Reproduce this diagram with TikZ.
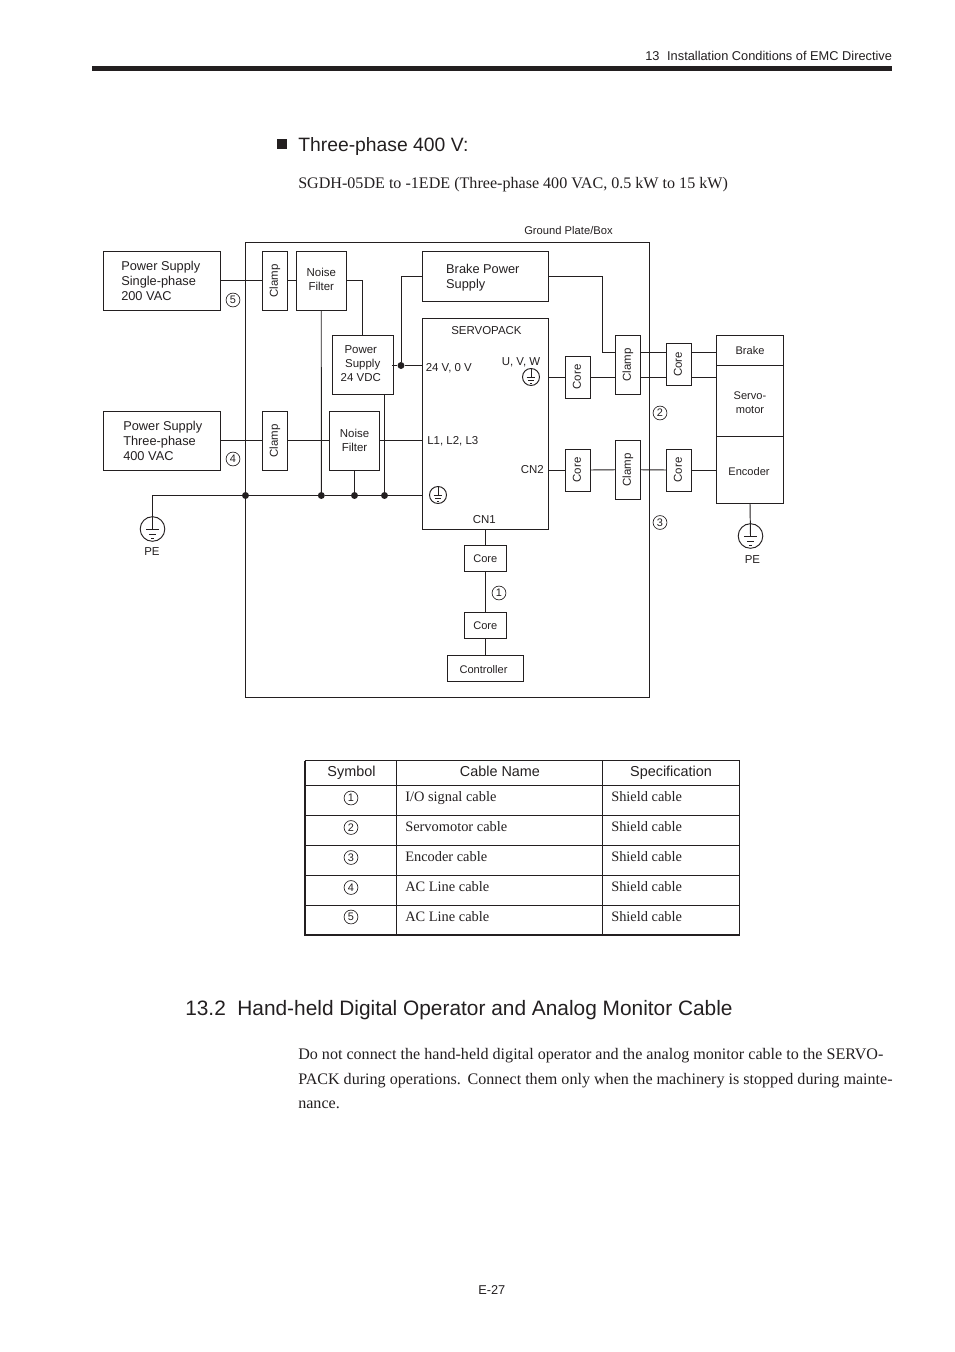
\documentclass[tikz,border=0pt]{standalone}
\usepackage{graphicx}
\usepackage{fontspec}
\setmainfont{Liberation Sans}
\newfontfamily\serifbody{Liberation Serif}
\usetikzlibrary{calc}
\definecolor{ink}{HTML}{231F20}
\newcommand{\fsz}[2][]{\fontsize{#2}{\ifx\relax#1\relax #2\else #1\fi}\selectfont}
\newcommand{\tall}[1]{\rule{0pt}{#1}}
\newcommand{\deep}[1]{\rule[-#1]{0pt}{0pt}}
% box by pixel corners
\newcommand{\bx}[7][]{%
  \pgfmathsetlengthmacro{\bw}{((#4)-(#2))*0.75pt}%
  \pgfmathsetlengthmacro{\bh}{((#5)-(#3))*0.75pt}%
  \node[boxnode,minimum width=\bw,minimum height=\bh,#1] (#6) at ({((#2)+(#4))/2},{((#3)+(#5))/2}) {#7};}
\newcommand{\gnd}[4]{% name x y r
  \pgfmathsetlengthmacro{\bw}{2*(#4)*0.75pt}%
  \node[gndnode,minimum size=\bw] (#1) at (#2,#3) {};
  \draw[wire] ({#2-0.52*(#4)},#3) -- ({#2+0.52*(#4)},#3)
    ({#2-0.3*(#4)},{#3+0.42*(#4)}) -- ({#2+0.3*(#4)},{#3+0.42*(#4)})
    ({#2-0.13*(#4)},{#3+0.76*(#4)}) -- ({#2+0.13*(#4)},{#3+0.76*(#4)});}
\tikzset{
  wire/.style={draw=ink,line width=0.72pt},
  boxnode/.style={draw=ink,line width=0.72pt,inner sep=0pt,align=center,text=ink,font=\fsz[10.5]{8.6}},
  bigtext/.style={align=left,font=\fsz[11.25]{9.6}},
  smalltext/.style={font=\fsz[10.5]{8.3}},
  gndnode/.style={draw=ink,line width=0.72pt,circle,inner sep=0pt},
  junction/.style={circle,fill=ink,inner sep=0pt,minimum size=5.2pt},
  lbl/.style={anchor=base west,inner sep=0pt,text=ink,font=\fsz{8.6}},
  cnum/.style={circle,draw=ink,line width=0.5pt,inner sep=0pt,minimum size=10.4pt,text=ink,font=\fsz{8.2}},
  hdr/.style={anchor=base,inner sep=0pt,text=ink,font=\fsz{10.8}},
  cell/.style={anchor=base west,inner sep=0pt,text=ink,font=\serifbody\fsz{10.8}},
  body/.style={anchor=base west,inner sep=0pt,text=ink,font=\serifbody\fsz{12.07}},
  tabrule/.style={draw=ink,line width=0.72pt},
  tabheavy/.style={draw=ink,line width=1.2pt}
}
\newcommand{\rot}[1]{\rotatebox{90}{#1}}
\begin{document}
\begin{tikzpicture}[x=0.75pt,y=-0.75pt]
\useasboundingbox (0,0) rectangle (954,1352);
% page header
\node[lbl,font=\fsz{9.6}] (runhead) at (645,60.5) {13\hspace{0.6em}Installation Conditions of EMC Directive};
\fill[ink] (92,66) rectangle (892,71);
% headings
\fill[ink] (277,139) rectangle (287,149);
\node[lbl,font=\fsz{14.5}] (title) at (298,151.3) {Three-phase 400 V:};
\node[body] (subtitle) at (298,189) {SGDH-05DE to -1EDE (Three-phase 400 VAC, 0.5 kW to 15 kW)};
\node[lbl,font=\fsz{8.4}] (gplabel) at (524,234) {Ground Plate/Box};
% ground plate
\bx{245.5}{242.5}{649}{697}{plate}{}
% boxes
\bx[bigtext]{103}{251.5}{220.5}{310}{ps1}{Power Supply\hspace*{1.5pt}\\Single-phase\\200 VAC}
\bx[bigtext]{103}{411.5}{220.5}{470}{ps3}{\hspace*{1.5pt}Power Supply\\\hspace*{1.5pt}Three-phase\\\hspace*{1.5pt}400 VAC}
\bx{262.5}{251.5}{287.5}{310}{clampA}{\rot{Clamp}}
\bx{262.5}{411.5}{287.5}{470}{clampB}{\rot{Clamp}}
\bx{296}{251.5}{346.5}{310}{nfA}{Noise\\Filter\deep{1.5pt}}
\bx{329.5}{411.5}{379.5}{470}{nfB}{Noise\\Filter}
\bx{332}{335.5}{393.5}{394}{psdc}{Power\hspace*{3pt}\\Supply\hspace*{3pt}\\24 VDC\hspace*{3pt}\deep{1.5pt}}
\bx[bigtext]{422.5}{251.5}{548.5}{301.5}{bps}{\tall{8.5pt}Brake Power\hspace*{4pt}\\Supply}
\bx{422.5}{318.5}{548.5}{529.5}{spk}{}
\bx{565.5}{356}{590.5}{398}{coreU}{\rot{\vphantom{p}Core}}
\bx{615.5}{335.5}{640.5}{394}{clampU}{\rot{Clamp}}
\bx{666.5}{343.5}{691.5}{385.5}{coreV}{\rot{\vphantom{p}Core}}
\bx{565.5}{449}{590.5}{491}{coreE}{\rot{\vphantom{p}Core}}
\bx{615.5}{440.5}{640.5}{499}{clampE}{\rot{Clamp}}
\bx{666.5}{449}{691.5}{491}{coreF}{\rot{\vphantom{p}Core}}
\bx[smalltext]{716.5}{335.5}{783.5}{365.5}{brake}{Brake}
\bx[smalltext]{716.5}{365.5}{783.5}{436.5}{servo}{\tall{9pt}Servo-\\motor}
\bx[smalltext]{716.5}{436.5}{783.5}{503.5}{enc}{\tall{9pt}Encoder\hspace*{1.5pt}}
\bx[smalltext]{464.5}{545.5}{506}{571.5}{coreS}{Core}
\bx[smalltext]{464.5}{612.5}{506}{638.5}{coreT}{Core}
\bx[smalltext]{447.5}{655}{523.5}{681}{ctrl}{\tall{9pt}Controller\hspace*{3pt}}
% servopack inner labels
\node[lbl] (spkname) at (451,334) {SERVOPACK};
\node[lbl] (t24) at (425.5,371) {24 V, 0 V};
\node[lbl] (tuvw) at (501.5,365) {U, V, W};
\node[lbl] (tl) at (427,444) {L1, L2, L3};
\node[lbl] (tcn2) at (520.5,473) {CN2};
\node[lbl] (tcn1) at (472.5,523) {CN1};
% grounds
\gnd{peL}{152.5}{529}{12.3}
\gnd{peR}{750.5}{536}{12.3}
\gnd{gU}{531}{377}{8.5}
\gnd{gB}{438}{495}{8.5}
\draw[wire] (gU.north) -- (gU.center);
\draw[wire] (gB.north) -- (gB.center);
\node[lbl] (peLt) at (144,555) {PE};
\node[lbl] (peRt) at (744.5,563) {PE};
% junctions
\node[junction] (j1) at (245.5,495.5) {};
\node[junction] (j2) at (321.3,495.5) {};
\node[junction] (j3) at (354.5,495.5) {};
\node[junction] (j4) at (384.5,495.5) {};
\node[junction] (j5) at (401,365.5) {};
\coordinate (busend) at (422.5,495.5);
\coordinate (turnB) at (602.5,352.5);
% connectors left
\draw[wire] (ps1.east) -- (clampA.west);
\draw[wire] (clampA.east) -- (nfA.west);
\draw[wire] (ps3.east) -- (clampB.west);
\draw[wire] (clampB.east) -- (nfB.west);
\draw[wire] (nfB.east) -- (spk.west |- nfB);
\draw[wire] (nfA.east) -| (psdc.north);
\draw[wire] (nfA.south) -- (j2);
\draw[wire] (nfB.south) -- (j3);
\draw[wire] (psdc.south -| j4) -- (j4);
\draw[wire] (peL.center) |- (j1);
\draw[wire] (j1) -- (j2) -- (j3) -- (j4) -- (busend);
\draw[wire] (psdc.east |- j5) ++(-2,0) -- (j5);
\draw[wire] (j5) -- (spk.west |- j5);
\draw[wire] (j5) |- (bps.west);
% connectors right
\draw[wire] (bps.east) -| (turnB) -- (clampU.west |- turnB);
\draw[wire] (clampU.east |- turnB) -- (coreV.west |- turnB);
\draw[wire] (coreV.east |- turnB) -- (brake.west |- turnB);
\draw[wire] (spk.east |- coreU) -- (coreU.west);
\draw[wire] (coreU.east) -- (clampU.west |- coreU);
\draw[wire] (clampU.east |- coreU) -- (coreV.west |- coreU);
\draw[wire] (coreV.east |- coreU) -- (servo.west |- coreU);
\draw[wire] (spk.east |- coreE) -- (coreE.west);
\draw[wire] (coreE.east) -- (clampE.west);
\draw[wire] (clampE.east) -- (coreF.west);
\draw[wire] (coreF.east) -- (enc.west |- coreF);
\draw[wire] (enc.south) -- (peR.center);
\draw[wire] (spk.south -| coreS) -- (coreS.north);
\draw[wire] (coreS.south) -- (coreT.north);
\draw[wire] (coreT.south) -- (ctrl.north -| coreT);
% cable numbers
\node[cnum] (n5) at (233,300) {5};
\node[cnum] (n4) at (233,459) {4};
\node[cnum] (n2) at (660,413) {2};
\node[cnum] (n3) at (660,522.5) {3};
\node[cnum] (n1) at (499,593) {1};
% table
\draw[tabrule] (305,760.5) -- (739.5,760.5);
\foreach \yy in {785.5,815.5,845.5,875.5,905.5} \draw[tabrule] (305,\yy) -- (739.5,\yy);
\draw[tabrule] (396.5,760.5) -- (396.5,935);
\draw[tabrule] (602.5,760.5) -- (602.5,935);
\draw[tabheavy] (305,760.5) -- (305,935) -- (739.5,935) -- (739.5,760.5);
\node[hdr] (hA) at (351.5,776) {Symbol};
\node[hdr] (hB) at (500,776) {Cable Name};
\node[hdr] (hC) at (671,776) {Specification};
\node[cnum] (r1) at (351,798) {1};
\node[cell] (c1) at (405,801) {I/O signal cable};
\node[cell] (s1) at (611,801) {Shield cable};
\node[cnum] (r2) at (351,827.5) {2};
\node[cell] (c2) at (405,831) {Servomotor cable};
\node[cell] (s2) at (611,831) {Shield cable};
\node[cnum] (r3) at (351,857.5) {3};
\node[cell] (c3) at (405,861) {Encoder cable};
\node[cell] (s3) at (611,861) {Shield cable};
\node[cnum] (r4) at (351,887.5) {4};
\node[cell] (c4) at (405,891) {AC Line cable};
\node[cell] (s4) at (611,891) {Shield cable};
\node[cnum] (r5) at (351,917) {5};
\node[cell] (c5) at (405,921) {AC Line cable};
\node[cell] (s5) at (611,921) {Shield cable};
% section
\node[lbl,font=\fsz{15.65}] (sect) at (185,1015) {13.2\hspace{0.55em}Hand-held Digital Operator and Analog Monitor Cable};
\node[body] (p1) at (298,1059) {Do not connect the hand-held digital operator and the analog monitor cable to the SERVO-};
\node[body] (p2) at (298,1084) {PACK during operations.\hspace{0.42em}Connect them only when the machinery is stopped during mainte-};
\node[body] (p3) at (298,1108) {nance.};
\node[lbl,font=\fsz{9.6}] (folio) at (478,1294) {E-27};
\end{tikzpicture}
\end{document}
